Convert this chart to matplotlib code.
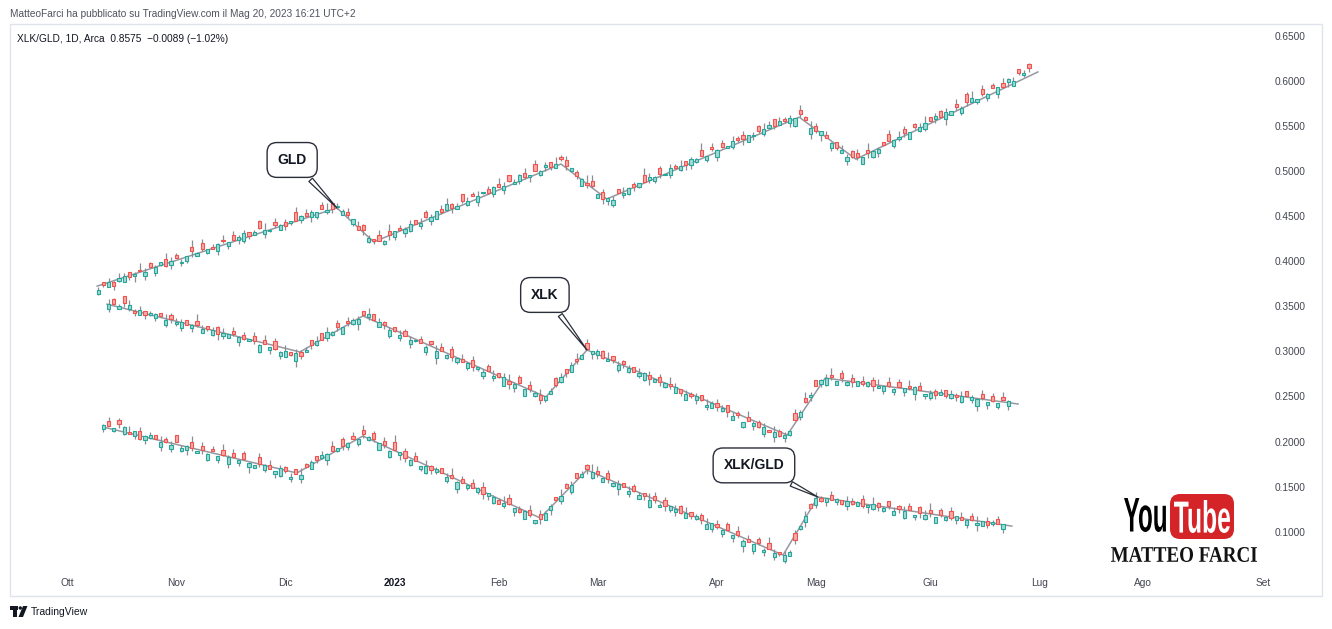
import numpy as np
import matplotlib
matplotlib.use("Agg")
import matplotlib.pyplot as plt
from matplotlib.patches import Rectangle, FancyBboxPatch, PathPatch, Circle, Polygon
from matplotlib.textpath import TextPath
from matplotlib.font_manager import FontProperties
from matplotlib.transforms import Affine2D, IdentityTransform

W, H = 1332, 629

# asse x: indice della barra giornaliera, etichette dei mesi
MONTHS = ["Ott", "Nov", "Dic", "2023", "Feb", "Mar", "Apr", "Mag", "Giu", "Lug", "Ago", "Set"]
MONTH_BARS = [0, 21, 42, 63, 83, 102, 125, 144, 166, 187, 207, 230]
PRICE_TICKS = [0.10, 0.15, 0.20, 0.25, 0.30, 0.35, 0.40, 0.45, 0.50, 0.55, 0.60, 0.65]

# corpi e ombre sono dati in "tick" di prezzo
TICK = 0.0015

# GLD
GLD_START = 6
GLD_CLOSE = [
    0.368, 0.374, 0.377, 0.372, 0.381, 0.384, 0.382, 0.386, 0.389, 0.388,
    0.393, 0.393, 0.399, 0.395, 0.400, 0.404, 0.399, 0.406, 0.411, 0.409,
    0.414, 0.414, 0.413, 0.419, 0.422, 0.421, 0.423, 0.427, 0.431, 0.428,
    0.432, 0.437, 0.435, 0.435, 0.440, 0.440, 0.439, 0.445, 0.445, 0.450,
    0.450, 0.455, 0.454, 0.458, 0.457, 0.458, 0.461, 0.456, 0.451, 0.447,
    0.434, 0.434, 0.426, 0.422, 0.422, 0.422, 0.429, 0.433, 0.434, 0.436,
    0.441, 0.441, 0.442, 0.449, 0.449, 0.456, 0.455, 0.463, 0.459, 0.461,
    0.467, 0.467, 0.472, 0.472, 0.477, 0.476, 0.482, 0.482, 0.483, 0.489,
    0.488, 0.495, 0.493, 0.495, 0.500, 0.500, 0.507, 0.504, 0.508, 0.513,
    0.506, 0.503, 0.494, 0.491, 0.484, 0.483, 0.474, 0.469, 0.470, 0.468,
    0.476, 0.476, 0.481, 0.482, 0.487, 0.488, 0.493, 0.493, 0.497, 0.497,
    0.503, 0.503, 0.506, 0.507, 0.513, 0.513, 0.517, 0.517, 0.524, 0.523,
    0.527, 0.528, 0.533, 0.534, 0.535, 0.540, 0.540, 0.544, 0.546, 0.551,
    0.550, 0.555, 0.555, 0.559, 0.559, 0.563, 0.557, 0.548, 0.544, 0.544,
    0.537, 0.531, 0.525, 0.523, 0.516, 0.516, 0.515, 0.515, 0.520, 0.522,
    0.524, 0.529, 0.533, 0.534, 0.538, 0.542, 0.543, 0.549, 0.549, 0.553,
    0.555, 0.561, 0.560, 0.565, 0.567, 0.571, 0.570, 0.576, 0.581, 0.580,
    0.585, 0.585, 0.592, 0.593, 0.593, 0.602, 0.600, 0.609, 0.609, 0.614,
]
# corpo con segno (positivo = rialzo), in tick
GLD_BODY = [
    3, -2, 4, -3, 2, 5, -4, 2, -1, 3,
    -3, 4, 2, -5, 3, -2, 1, 4, -3, 2,
    -4, 3, -2, 5, -1, 3, -4, 2, 6, -3,
    2, -5, 3, 1, -2, 4, -3, 2, -6, 3,
    -2, 4, 3, -3, 2, -4, 1, 3, -2, 4,
    -3, -4, 3, -2, -5, 2, -3, 4, -2, 3,
    5, -3, 2, -4, 3, 6, -2, 4, -3, 2,
    -5, 3, -2, 4, 1, -3, 5, -2, 3, -4,
    2, 4, -3, 1, -5, 3, 2, -4, 3, -2,
    -4, 2, -3, 5, -2, -4, 3, -5, 2, 4,
    -3, 2, 4, -2, 3, -5, 2, 3, -4, 1,
    5, -2, 3, -3, 4, 2, -4, 3, -2, 5,
    -3, 2, 4, -2, -3, 5, 1, -4, 3, 2,
    -5, 3, -2, 4, 6, -3, -2, 5, -4, 3,
    -2, 4, -5, 2, 3, -4, -3, 5, -2, 4,
    3, -2, -5, 4, 2, -3, 5, -2, 3, 4,
    -3, 2, -4, 5, 3, -2, 4, -6, 3, 2,
    -4, 3, -2, 5, -3, 2, 4, -3, 2, -3,
]
# ombre (tick) sopra e sotto il corpo
GLD_UP = ("2031420153 1204312051 3021403120 2150312041 3102502130 4120315021 "
          "3041203512 0314021530 2140312051 3021640213 0412053120 3140215031 "
          "2041302153 0312041520 3104213051 2031420135 0213041250 3120413021")
GLD_DN = ("1203102413 0211302140 2103120312 0131203102 1420131021 0312014203 "
          "1021302140 2103112031 0214013201 3120210431 0213102130 2014310213 "
          "1021403120 2013120314 0210312041 3102130212 0314021302 1203140213")
GLD_LINE_X = [5.8, 51.9, 59.0, 95.0, 103.8, 140.8, 151.7, 186.7]
GLD_LINE_Y = [0.3723, 0.4590, 0.4213, 0.5077, 0.4689, 0.5597, 0.5131, 0.6098]

# XLK
XLK_START = 8
XLK_CLOSE = [
    0.353, 0.353, 0.350, 0.354, 0.351, 0.342, 0.346, 0.340, 0.342, 0.341,
    0.339, 0.335, 0.336, 0.333, 0.333, 0.329, 0.329, 0.329, 0.325, 0.325,
    0.324, 0.319, 0.320, 0.319, 0.319, 0.316, 0.314, 0.314, 0.311, 0.307,
    0.308, 0.305, 0.303, 0.299, 0.300, 0.296, 0.298, 0.295, 0.302, 0.307,
    0.312, 0.313, 0.321, 0.321, 0.327, 0.327, 0.331, 0.335, 0.336, 0.340,
    0.341, 0.335, 0.332, 0.329, 0.324, 0.323, 0.318, 0.317, 0.313, 0.313,
    0.309, 0.305, 0.308, 0.300, 0.300, 0.296, 0.294, 0.293, 0.288, 0.287,
    0.283, 0.283, 0.277, 0.278, 0.273, 0.272, 0.271, 0.264, 0.264, 0.265,
    0.258, 0.258, 0.254, 0.246, 0.250, 0.256, 0.263, 0.272, 0.276, 0.285,
    0.289, 0.296, 0.303, 0.300, 0.300, 0.293, 0.292, 0.290, 0.285, 0.286,
    0.282, 0.277, 0.276, 0.276, 0.269, 0.269, 0.266, 0.265, 0.261, 0.260,
    0.254, 0.253, 0.250, 0.251, 0.246, 0.241, 0.243, 0.238, 0.237, 0.233,
    0.228, 0.229, 0.222, 0.223, 0.220, 0.216, 0.216, 0.210, 0.210, 0.206,
    0.207, 0.212, 0.224, 0.233, 0.244, 0.252, 0.262, 0.268, 0.270, 0.271,
    0.267, 0.270, 0.266, 0.266, 0.267, 0.264, 0.266, 0.261, 0.262, 0.262,
    0.262, 0.258, 0.260, 0.259, 0.259, 0.260, 0.257, 0.253, 0.254, 0.252,
    0.255, 0.251, 0.253, 0.249, 0.250, 0.251, 0.249, 0.247, 0.248, 0.244,
    0.245, 0.243, 0.246, 0.245,
]
XLK_BODY = [
    4, -3, 2, -5, 3, -2, 4, -3, 1, 3,
    -2, 4, -3, 2, 5, -4, 2, -3, 3, -2,
    4, -5, 2, 3, -2, 4, -3, 2, -4, 5,
    -3, 2, -6, 3, 4, -2, 6, -3, 2, -4,
    3, -5, 4, 2, -3, 5, -2, 3, 4, -3,
    2, -4, 3, -2, 5, -3, 2, -4, 3, 1,
    -3, 4, -2, 5, -3, 2, -6, 3, -2, 4,
    -5, 2, 3, -4, 2, -3, 6, -2, 3, -4,
    5, -3, 2, -4, 3, 2, -5, 4, -3, 5,
    -2, 3, -4, 2, 3, -5, 2, -3, 4, -2,
    3, -4, 2, 5, -3, 2, -4, 3, -2, 4,
    -3, 5, -2, 3, -4, 2, 4, -3, 2, -5,
    3, -2, 4, -3, 2, -4, 5, -2, 3, -4,
    2, 3, -5, 4, -3, 2, -4, 3, 5, -2,
    3, -4, 2, -3, 4, -2, 3, -5, 2, 4,
    -3, 2, -4, 3, -2, 5, -3, 2, 4, -3,
    2, -4, 3, -2, 4, -3, 2, 5, -3, 2,
    -4, 3, -2, 4,
]
XLK_UP = ("3120413021 0413201530 2140312031 4021503120 3041203120 5031204130 "
          "2105312041 3021403512 0314021302 4130215031 2041302153 0312041320 "
          "3104213051 2031420135 0213041250 3120413021 2031402130 2041")
XLK_DN = ("2103120312 0131203102 1420131021 0312014203 1021302140 2103112031 "
          "0214013201 3120210431 0213102130 2014310213 1021403120 2013120314 "
          "0210312041 3102130212 0314021302 1203140213 0213102413 1203")
XLK_LINE_X = [7.7, 44.8, 56.9, 92.1, 100.0, 138.5, 145.8, 182.9]
XLK_LINE_Y = [0.3523, 0.2993, 0.3392, 0.2494, 0.3015, 0.2072, 0.2704, 0.2416]

# XLK/GLD
RATIO_START = 7
RATIO_CLOSE = [
    0.218, 0.217, 0.215, 0.219, 0.216, 0.208, 0.212, 0.203, 0.206, 0.207,
    0.203, 0.200, 0.200, 0.196, 0.200, 0.193, 0.195, 0.193, 0.190, 0.191,
    0.186, 0.189, 0.184, 0.185, 0.183, 0.183, 0.179, 0.181, 0.176, 0.174,
    0.175, 0.174, 0.169, 0.167, 0.171, 0.167, 0.161, 0.164, 0.163, 0.172,
    0.177, 0.179, 0.185, 0.186, 0.190, 0.193, 0.195, 0.198, 0.203, 0.203,
    0.208, 0.205, 0.203, 0.198, 0.196, 0.189, 0.191, 0.188, 0.182, 0.179,
    0.178, 0.173, 0.173, 0.168, 0.169, 0.165, 0.161, 0.160, 0.155, 0.154,
    0.152, 0.148, 0.148, 0.142, 0.143, 0.138, 0.131, 0.132, 0.131, 0.126,
    0.122, 0.123, 0.119, 0.113, 0.114, 0.121, 0.128, 0.135, 0.140, 0.148,
    0.152, 0.159, 0.164, 0.169, 0.166, 0.164, 0.160, 0.158, 0.154, 0.153,
    0.150, 0.145, 0.145, 0.141, 0.140, 0.135, 0.135, 0.130, 0.129, 0.128,
    0.125, 0.121, 0.121, 0.117, 0.117, 0.113, 0.108, 0.110, 0.105, 0.102,
    0.102, 0.096, 0.096, 0.090, 0.089, 0.086, 0.087, 0.080, 0.081, 0.076,
    0.075, 0.074, 0.078, 0.091, 0.106, 0.117, 0.126, 0.137, 0.134, 0.137,
    0.135, 0.136, 0.131, 0.134, 0.131, 0.133, 0.129, 0.130, 0.131, 0.127,
    0.126, 0.128, 0.123, 0.125, 0.123, 0.124, 0.119, 0.121, 0.119, 0.121,
    0.116, 0.119, 0.116, 0.115, 0.117, 0.113, 0.113, 0.113, 0.110, 0.112,
    0.107, 0.111, 0.108, 0.108,
]
RATIO_BODY = [
    3, -4, 2, -3, 5, -2, 4, -6, 3, 2,
    -3, 4, -2, 3, -5, 2, 3, -4, 2, -3,
    4, -2, 3, -4, 5, -3, 2, -4, 3, 2,
    -5, 4, -3, 2, 6, -3, 2, -4, 3, -2,
    5, -3, 2, 4, -3, 2, -5, 3, -2, 4,
    -3, 2, -4, 5, -3, 4, -6, 2, -5, 3,
    -4, 2, 5, -3, 2, -4, 3, -2, 5, -3,
    2, -4, 3, -5, 2, 4, -3, 2, -4, 3,
    -2, 6, -3, 2, -4, 5, 3, -2, 4, -3,
    5, -4, 2, -3, 4, -2, 3, -5, 2, 4,
    -3, 2, -4, 3, -2, 5, -3, 2, -4, 3,
    2, -5, 4, -3, 2, -4, 3, 5, -2, 3,
    -4, 2, -3, 4, -2, 5, -3, 2, -4, 3,
    -2, 4, 3, -5, 2, 4, -3, 5, -2, 3,
    -4, 2, -3, 4, -2, 3, -5, 2, 4, -3,
    2, -4, 3, -2, 5, -3, 2, -4, 3, -2,
    4, -3, 2, -5, 3, -2, 4, -3, 2, 4,
    -3, 2, -4, 3,
]
RATIO_UP = ("1302140312 0413021503 1204130210 3140213051 2031402130 4120315021 "
            "3041203512 0314021530 2140312051 3021640213 0412053120 3140215031 "
            "2041302153 0312041520 3104213051 2031420135 0213041250 3120")
RATIO_DN = ("2013102131 0312014203 1021302140 2103112031 0214013201 3120210431 "
            "0213102130 2014310213 1021403120 2013120314 0210312041 3102130212 "
            "0314021302 1203140213 0213102413 1203102413 0211302140 2103")
RATIO_LINE_X = [6.9, 44.2, 56.9, 91.0, 100.0, 137.7, 144.4, 181.7]
RATIO_LINE_Y = [0.2161, 0.1651, 0.2061, 0.1152, 0.1684, 0.0741, 0.1384, 0.1062]

# colori stile TradingView
TEAL = "#26a69a"
TEAL_F = "#a3dad3"
RED = "#ef5350"
RED_F = "#f8a9a7"
WICK = "#8a8d96"
LINE = "#9598a1"
TXT = "#131722"
FONT = ["Liberation Sans", "DejaVu Sans"]


def candele(ax, start, closes, body, up, dn):
    c = np.array(closes)
    b = np.array(body) * TICK
    o = c - b
    x = start + np.arange(len(c))
    su = np.array([int(ch) for ch in up if ch.isdigit()]) * TICK
    sd = np.array([int(ch) for ch in dn if ch.isdigit()]) * TICK
    hi = np.maximum(o, c) + su
    lo = np.minimum(o, c) - sd
    rialzo = b > 0
    ax.vlines(x, lo, hi, color=WICK, lw=0.9, zorder=2)
    ax.bar(x, b, bottom=o, width=0.62,
           color=np.where(rialzo, TEAL_F, RED_F),
           edgecolor=np.where(rialzo, TEAL, RED), linewidth=0.8, zorder=3)


def testo_in_box(fig, s, x0, y0, x1, y1, color, prop):
    # disegna il testo come tracciato, adattato al riquadro (pixel, origine in alto)
    tp = TextPath((0, 0), s, size=10, prop=prop)
    bb = tp.get_extents()
    tr = (Affine2D().translate(-bb.x0, -bb.y0)
          .scale((x1 - x0) / bb.width, (y1 - y0) / bb.height)
          .translate(x0, H - y1))
    fig.add_artist(PathPatch(tr.transform_path(tp), fc=color, ec="none",
                             transform=IdentityTransform()))


fig = plt.figure(figsize=(W / 100, H / 100), dpi=100)
fig.patch.set_facecolor("white")

# cornice del grafico
fig.add_artist(Rectangle((10, H - 596), 1312, 572, fill=False, ec="#e0e3eb",
                         lw=1.0, transform=IdentityTransform()))

ax = fig.add_axes([10 / W, (H - 572) / H, 1255 / W, 548 / H])
ax.set_xlim(-10.96, 230.38)
ax.set_ylim(0.0553, 0.66297)
for sp in ax.spines.values():
    sp.set_visible(False)
ax.set_facecolor("none")

for lx, ly in [(GLD_LINE_X, GLD_LINE_Y), (XLK_LINE_X, XLK_LINE_Y), (RATIO_LINE_X, RATIO_LINE_Y)]:
    ax.plot(lx, ly, color=LINE, lw=1.1, zorder=1)

candele(ax, GLD_START, GLD_CLOSE, GLD_BODY, GLD_UP, GLD_DN)
candele(ax, XLK_START, XLK_CLOSE, XLK_BODY, XLK_UP, XLK_DN)
candele(ax, RATIO_START, RATIO_CLOSE, RATIO_BODY, RATIO_UP, RATIO_DN)

# assi
ax.yaxis.tick_right()
ax.set_yticks(PRICE_TICKS)
ax.set_yticklabels(["%.4f" % p for p in PRICE_TICKS])
ax.set_xticks(MONTH_BARS)
ax.set_xticklabels(MONTHS)
ax.tick_params(axis="y", length=0, pad=7.2, labelsize=7.3, labelcolor="#434651")
ax.tick_params(axis="x", length=0, pad=4, labelsize=7.3, labelcolor="#434651")
for lab in ax.get_xticklabels() + ax.get_yticklabels():
    lab.set_family(FONT)
    if lab.get_text() == "2023":
        lab.set_fontweight("bold")
        lab.set_color(TXT)

# etichette a fumetto
fumetti = [
    ("GLD", GLD_LINE_X[1], GLD_LINE_Y[1], 43.3, 0.5122),
    ("XLK", XLK_LINE_X[4], XLK_LINE_Y[4], 91.9, 0.3625),
    ("XLK/GLD", RATIO_LINE_X[6], RATIO_LINE_Y[6], 132.1, 0.1735),
]
for nome, px, py, tx, ty in fumetti:
    ax.annotate(nome, xy=(px, py), xytext=(tx, ty), ha="center", va="center",
                fontsize=10, fontweight="bold", color=TXT, family=FONT, zorder=6,
                bbox=dict(boxstyle="round,pad=0.75,rounding_size=0.7", fc="white",
                          ec="#2a2e39", lw=1.0),
                arrowprops=dict(arrowstyle="wedge,tail_width=0.35,shrink_factor=0.5",
                                fc="white", ec="#2a2e39", lw=0.9, shrinkB=0))

# intestazione e legenda
fig.text(10 / W, 1 - 14 / H,
         "MatteoFarci ha pubblicato su TradingView.com il Mag 20, 2023 16:21 UTC+2",
         fontsize=7.3, color="#50535e", va="center", ha="left", family=FONT)
fig.text(17 / W, 1 - 39 / H,
         "XLK/GLD, 1D, Arca  0.8575  \u22120.0089 (\u22121.02%)",
         fontsize=7.3, color=TXT, va="center", ha="left", family=FONT)

# logo YouTube / MATTEO FARCI
bold_sans = FontProperties(family="Liberation Sans", weight="bold")
serif = FontProperties(family="Liberation Serif", weight="bold")
fig.add_artist(FancyBboxPatch((1170, H - 539), 64, 45,
                              boxstyle="round,pad=0,rounding_size=10",
                              fc="#d42428", ec="none", transform=IdentityTransform()))
testo_in_box(fig, "You", 1124, 498, 1166, 532, "black", bold_sans)
testo_in_box(fig, "Tube", 1174, 500, 1230, 533, "white", bold_sans)
testo_in_box(fig, "MATTEO FARCI", 1111, 547, 1257, 562, "#111111", serif)

# logo TradingView in basso
tv = IdentityTransform()
fig.add_artist(Rectangle((10, H - 609.5), 8, 3.5, fc=TXT, ec="none", transform=tv))
fig.add_artist(Rectangle((13, H - 617), 3.5, 11, fc=TXT, ec="none", transform=tv))
fig.add_artist(Circle((20.3, H - 608), 1.7, fc=TXT, ec="none", transform=tv))
fig.add_artist(Polygon([(23, H - 606), (27.5, H - 606), (23, H - 617), (18.5, H - 617)],
                       closed=True, fc=TXT, ec="none", transform=tv))
fig.text(31 / W, 1 - 612 / H, "TradingView", fontsize=7.5, color=TXT,
         va="center", ha="left", family=FONT)

fig.savefig("out.png", dpi=100)
